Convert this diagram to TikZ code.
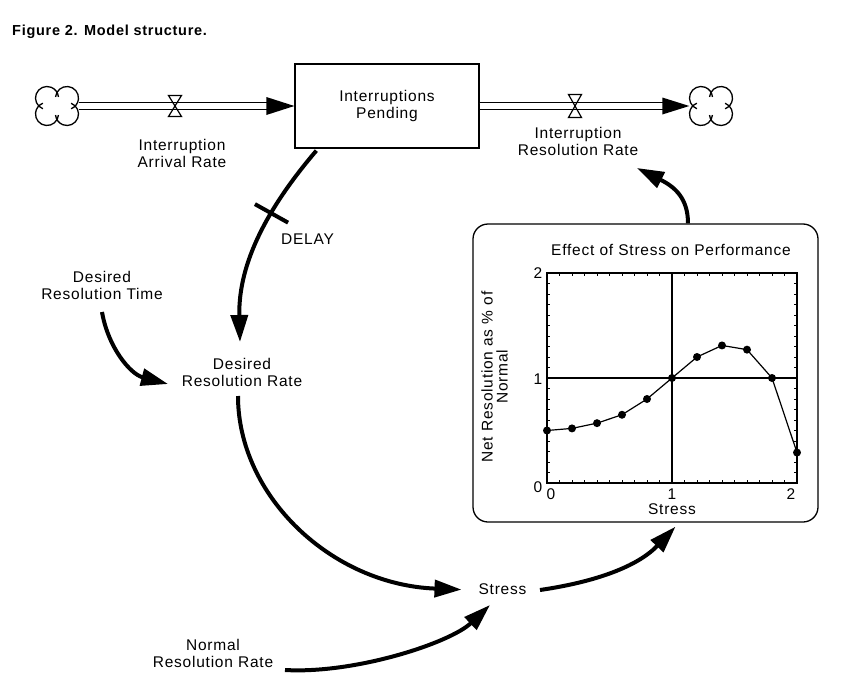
\documentclass[tikz,border=0pt]{standalone}
\usepackage{fontspec}
\setmainfont{Liberation Sans}[LetterSpace=5]
\usetikzlibrary{arrows.meta,calc}
\newcommand\drawcloud[1]{%
  \foreach \cx/\cy/\sa/\ea in {-10/8/5/249, 10/8/-69/175, -10/-8/111/355, 10/-8/-175/69}{%
    \draw[cloudline] ($(#1)+(\cx,\cy)+(\sa:11.5)$) arc[start angle=\sa, end angle=\ea, radius=11.5];}}
\begin{document}
\begin{tikzpicture}[x=1pt,y=-1pt,
  lbl/.style={font=\fontsize{15.5}{17}\selectfont, align=center, inner sep=0pt},
  link/.style={line width=4pt, -{Triangle[length=27pt,width=17pt]}},
  pipe/.style={line width=1.4pt, double distance=5.6pt},
  cloudline/.style={line width=1.3pt},
  valveline/.style={line width=1.2pt},
  gline/.style={line width=1.2pt},
  tickline/.style={line width=0.8pt},
  cloudnode/.style={circle, minimum size=43pt, inner sep=0pt}]
\useasboundingbox (0,0) rectangle (860,688);
\fill[white] (0,0) rectangle (860,688);

% title
\node[anchor=base west, inner sep=0pt, font=\fontsize{14.5}{16}\selectfont\bfseries] (title) at (12,35) {Figure 2. Model structure.};

% stock and clouds
\node[draw, line width=1.3pt, minimum width=184pt, minimum height=84pt, lbl] (stock) at (387,106) {Interruptions\\Pending};
\node[cloudnode] (cloudL) at (57,106) {};
\node[cloudnode] (cloudR) at (711,106) {};
\drawcloud{cloudL}
\drawcloud{cloudR}

% pipes
\draw[pipe, shorten >=26pt] (cloudL.east) -- (stock.west);
\fill (stock.west) -- ++(-28,-9) -- ++(0,18) -- cycle;
\draw[pipe, shorten >=25pt] (stock.east) -- (cloudR.west);
\fill (cloudR.west) -- ++(-27,-8.5) -- ++(0,17) -- cycle;

% valves
\coordinate (valveL) at (175,106);
\coordinate (valveR) at (575,106);
\draw[valveline] ($(valveL)+(-6.5,-10.5)$) -- ++(13,0) -- ++(-13,21) -- ++(13,0) -- cycle;
\draw[valveline] ($(valveR)+(-6.5,-11.5)$) -- ++(13,0) -- ++(-13,23) -- ++(13,0) -- cycle;

% labels
\node[lbl] (iar) at (182,153.5) {Interruption\\Arrival Rate};
\node[lbl] (irr) at (578,141) {Interruption\\Resolution Rate};
\node[lbl] (delay) at (307.5,239.6) {DELAY};
\node[lbl] (drt) at (102,285) {Desired\\Resolution Time};
\node[lbl] (drr) at (242,372) {Desired\\Resolution Rate};
\node[lbl] (stress) at (502.5,589.6) {Stress};
\node[lbl] (nrr) at (213,653.5) {Normal\\Resolution Rate};

% graph box
\node[draw, rounded corners=15pt, line width=1.3pt, minimum width=345pt, minimum height=298pt, inner sep=0pt] (graph) at (645.5,373) {};
\node[lbl] (gtitle) at (671,250) {Effect of Stress on Performance};
\begin{scope}[shift={(547,483)}, x=125pt, y=105pt]
  \foreach \t in {0.1,0.2,...,1.95}{
    \draw[tickline] (\t,0) -- ++(0,0.03) (\t,2) -- ++(0,-0.03) (0,\t) -- ++(0.025,0) (2,\t) -- ++(-0.025,0);}
  \draw[gline] (0,0) rectangle (2,2);
  \draw[gline] (1,0) -- (1,2) (0,1) -- (2,1);
  \draw[gline] plot coordinates {(0,0.5) (0.2,0.52) (0.4,0.57) (0.6,0.65) (0.8,0.8) (1,1) (1.2,1.2) (1.4,1.31) (1.6,1.27) (1.8,1.0) (2,0.29)};
  \foreach \p in {(0,0.5), (0.2,0.52), (0.4,0.57), (0.6,0.65), (0.8,0.8), (1,1), (1.2,1.2), (1.4,1.31), (1.6,1.27), (1.8,1.0), (2,0.29)}
    \fill \p circle[radius=4pt];
\end{scope}
\node[lbl] (y2) at (538,273) {2};
\node[lbl] (y1) at (538,379) {1};
\node[lbl] (y0) at (538,487) {0};
\node[lbl] (x0) at (551,494.5) {0};
\node[lbl] (x1) at (672,494.5) {1};
\node[lbl] (x2) at (791,494.5) {2};
\node[lbl] (xlab) at (672,509) {Stress};
\node[lbl, rotate=90, font=\fontsize{15.5}{15}\selectfont] (ylab) at (494.5,377) {Net Resolution as \% of\\Normal};

% connectors
\draw[link] ($(stock.south west)+(22,2)$) .. controls +(-47,55) and +(-2,-80) .. ($(drr)+(-2,-30)$)
  node[pos=0.37, sloped, fill=black, inner sep=0pt, minimum width=4pt, minimum height=38pt] (delaymark) {};
\draw[link] ($(drt)+(0,27)$) .. controls +(6,35) and +(-38,-10) .. ($(drr)+(-74,12)$);
\draw[link] ($(drr)+(-4,24)$) .. controls +(0,100) and +(-130,-5) .. ($(stress)+(-41,0)$);
\draw[link] ($(nrr)+(72,16.5)$) .. controls +(70,4) and +(-40,38) .. ($(stress)+(-12.5,15.4)$);
\draw[link] ($(stress)+(37.5,0.4)$) .. controls +(55,-8) and +(-38,40) .. ($(graph.south)+(30,4)$);
\draw[link] ($(graph.north)+(42.5,0)$) .. controls +(0,-25) and +(38,19) .. ($(irr)+(59,27)$);
\end{tikzpicture}
\end{document}
